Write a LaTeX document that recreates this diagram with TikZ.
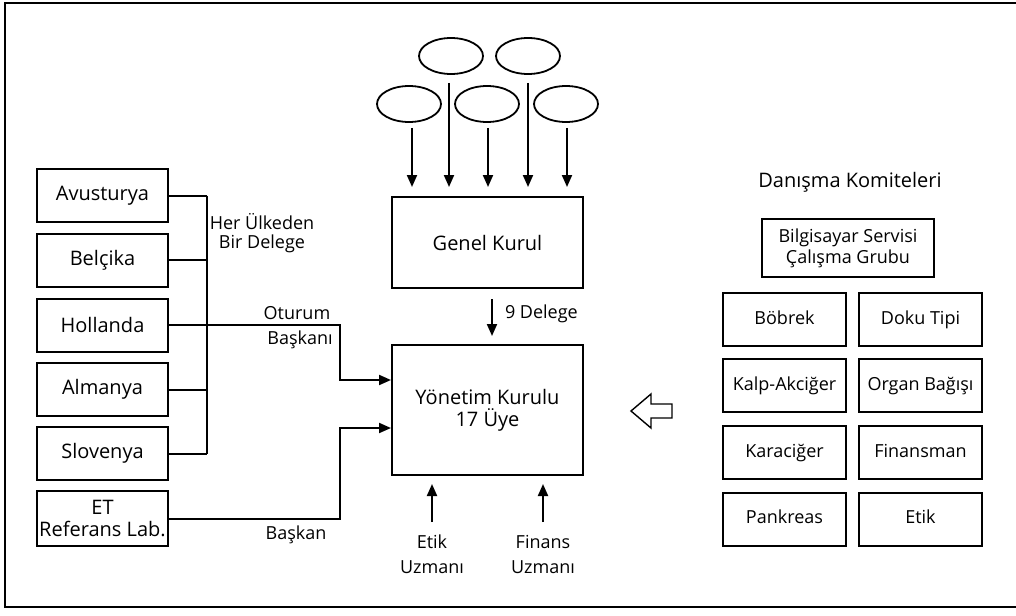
\documentclass[tikz,border=0pt]{standalone}
\usepackage{fontspec}
\setmainfont{Open Sans}
\usetikzlibrary{arrows.meta,shapes.geometric}
\begin{document}
\begin{tikzpicture}[x=1pt,y=-1pt,
  line width=2pt,
  box/.style={draw,line width=2pt,inner sep=0pt,align=center,
    font=\fontsize{20}{22}\selectfont},
  cbox/.style={box,minimum width=131pt,minimum height=53pt},
  kbox/.style={box,minimum width=123pt,minimum height=53pt,text height=13pt,text depth=4pt,
    font=\fontsize{18}{21}\selectfont},
  oval/.style={draw,ellipse,line width=1.8pt,minimum width=64pt,minimum height=36pt,inner sep=0pt},
  lbl/.style={inner sep=0pt,align=center,font=\fontsize{18}{22}\selectfont},
  arr/.style={-{Triangle[length=12pt,width=10pt]}},
]
\useasboundingbox (0,0) rectangle (1016,615);
\clip (0,0) rectangle (1016,615);

% outer frame (open to the right)
\draw[line width=2.8pt] (1030,3) -- (5,3) -- (5,607) -- (1030,607);

% member countries
\node[cbox] (avu) at (102.5,195.5) {Avusturya};
\node[cbox] (bel) at (102.5,260) {Belçika};
\node[cbox] (hol) at (102.5,325) {Hollanda};
\node[cbox] (alm) at (102.5,389.5) {Almanya};
\node[cbox] (slo) at (102.5,453.5) {Slovenya};
\node[cbox,minimum height=55pt] (et) at (102.5,518.5) {ET\\Referans Lab.};

% delegate bus
\coordinate (busT) at (207,195.5);
\coordinate (busB) at (207,453.5);
\draw (busT) -- (busB);
\foreach \n in {avu,bel,alm,slo} \draw (\n.east) -- (\n.east -| busT);

% general assembly and its members
\node[oval] (e1) at (451,56) {};
\node[oval] (e2) at (528,56) {};
\node[oval] (e3) at (409,104) {};
\node[oval] (e4) at (487,104) {};
\node[oval] (e5) at (566,104) {};

\node[box,minimum width=191pt,minimum height=91pt] (gk) at (487.5,242.5) {Genel Kurul};
\node[box,minimum width=191pt,minimum height=130pt] (yk) at (487.5,410) {Yönetim Kurulu\\17 Üye};

\foreach \e/\dx in {e3/3,e4/1,e5/1}
  \draw[arr,shorten <=5pt,shorten >=9pt] ([xshift=\dx pt]\e.south) -- ([xshift=\dx pt]\e.south |- gk.north);
\foreach \e/\dx in {e1/-2,e2/0}
  \draw[arr,shorten <=8pt,shorten >=9pt] ([xshift=\dx pt]\e.south) -- ([xshift=\dx pt]\e.south |- gk.north);

\draw[arr,shorten <=10pt,shorten >=8pt] ([xshift=4.5pt]gk.south) -- ([xshift=4.5pt]yk.north)
  node[lbl,anchor=west,pos=0.45,xshift=12pt] {9 Delege};

% chair links
\draw[arr] (hol.east) -- (340,325) |- ([yshift=30pt]yk.west);
\draw[arr] (et.east) -- (340,518.5) |- ([yshift=-18pt]yk.west);

\node[lbl,font=\fontsize{18}{19}\selectfont] (her) at (262,233) {Her Ülkeden\\Bir Delege};
\node[lbl] (otu) at (297,313) {Oturum};
\node[lbl] (bsi) at (300,340) {Başkanı};
\node[lbl] (bsk) at (296,535) {Başkan};

% experts
\node[lbl,font=\fontsize{18}{25}\selectfont,anchor=north] (etik) at (432,534) {Etik\\Uzmanı};
\node[lbl,font=\fontsize{18}{25}\selectfont,anchor=north] (fin) at (543,534) {Finans\\Uzmanı};
\draw[arr,shorten <=12pt,shorten >=8pt] (etik.north) -- (etik.north |- yk.south);
\draw[arr,shorten <=12pt,shorten >=8pt] (fin.north) -- (fin.north |- yk.south);

% advisory committees
\node[lbl,font=\fontsize{20}{22}\selectfont] (dk) at (850,182) {Danışma Komiteleri};
\node[kbox,minimum width=172pt,minimum height=58pt,text height=,text depth=] (bs) at (848,248) {Bilgisayar Servisi\\Çalışma Grubu};
\node[kbox] (bob) at (784.5,319.5) {Böbrek};
\node[kbox] (dok) at (920.5,319.5) {Doku Tipi};
\node[kbox] (kal) at (784.5,385.5) {Kalp-Akciğer};
\node[kbox] (org) at (920.5,385.5) {Organ Bağışı};
\node[kbox] (kar) at (784.5,452.5) {Karaciğer};
\node[kbox] (fns) at (920.5,452.5) {Finansman};
\node[kbox] (pan) at (784.5,519) {Pankreas};
\node[kbox] (etk) at (920.5,519) {Etik};

% hollow arrow toward the board
\draw[line width=1.4pt,line join=miter] (631,411) -- (651,394) -- (651,404) -- (672,404)
  -- (672,418) -- (651,418) -- (651,428) -- cycle;
\end{tikzpicture}
\end{document}
